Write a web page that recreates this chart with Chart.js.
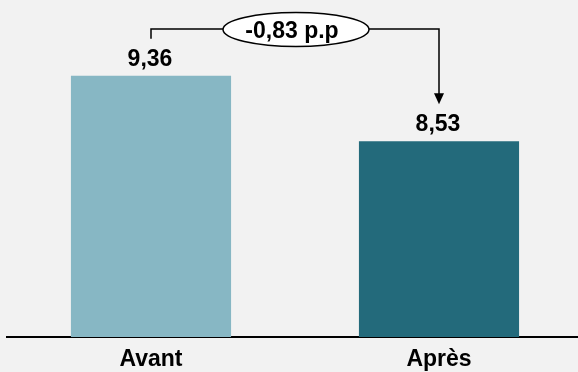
<!DOCTYPE html>
<html>
<head>
<meta charset="utf-8">
<script src="https://cdn.jsdelivr.net/npm/chart.js@4.4.1/dist/chart.umd.min.js"></script>
<style>
  body { margin: 0; background: #f2f2f2; overflow: hidden; }
  #wrap { width: 578px; height: 372px; overflow: hidden; }
</style>
</head>
<body>
<div id="wrap"><canvas id="gapChart" width="584" height="382"></canvas></div>
<script>
var categories = ['Avant', 'Après'];
var values = [9.36, 8.53];
var barColors = ['#87b7c4', '#236a7b'];

function fr(v) {
    return v.toFixed(2).replace('.', ',');
}

var FONT = 'bold 23px "Liberation Sans", Arial, sans-serif';

// value labels + bracket with the difference
var annotate = {
    id: 'annotate',
    afterDatasetsDraw: function(chart) {
        var ctx = chart.ctx;
        var meta = chart.getDatasetMeta(0);
        var b1 = meta.data[0], b2 = meta.data[1];

        ctx.save();
        ctx.fillStyle = '#000';
        ctx.font = FONT;
        ctx.textAlign = 'center';
        ctx.textBaseline = 'alphabetic';
        meta.data.forEach(function(bar, i) {
            ctx.fillText(fr(values[i]), bar.x - 1, bar.y - 10);
        });

        var lineY = 29;
        var ex = 296, ey = 29.5, rx = 73, ry = 17;
        var leftBottom = b1.y - 37;
        var tip = b2.y - 37;

        ctx.strokeStyle = '#000';
        ctx.lineWidth = 1.5;
        ctx.beginPath();
        ctx.moveTo(b1.x, leftBottom);
        ctx.lineTo(b1.x, lineY);
        ctx.lineTo(ex - rx, lineY);
        ctx.moveTo(ex + rx, lineY);
        ctx.lineTo(b2.x, lineY);
        ctx.lineTo(b2.x, tip - 10);
        ctx.stroke();

        ctx.fillStyle = '#000';
        ctx.beginPath();
        ctx.moveTo(b2.x - 5, tip - 11);
        ctx.lineTo(b2.x + 5, tip - 11);
        ctx.lineTo(b2.x, tip);
        ctx.closePath();
        ctx.fill();

        ctx.beginPath();
        ctx.ellipse(ex, ey, rx, ry, 0, 0, Math.PI * 2);
        ctx.fillStyle = '#fff';
        ctx.fill();
        ctx.stroke();

        ctx.fillStyle = '#000';
        ctx.fillText(fr(values[1] - values[0]) + ' p.p', ex - 4, 38);
        ctx.restore();
    }
};

var bg = {
    id: 'bg',
    beforeDraw: function(chart) {
        var ctx = chart.ctx;
        ctx.save();
        ctx.fillStyle = '#f2f2f2';
        ctx.fillRect(0, 0, chart.width, chart.height);
        ctx.restore();
    }
};

var ctxb = document.getElementById('gapChart').getContext('2d');
var gapChart = new Chart(ctxb, {
    type: 'bar',
    data: {
        labels: categories,
        datasets: [{
            data: values,
            backgroundColor: barColors,
            borderWidth: 0,
            categoryPercentage: 1,
            barPercentage: 0.556
        }]
    },
    options: {
        responsive: false,
        animation: false,
        layout: {
            padding: { top: 20, left: 7, right: 1, bottom: 0 }
        },
        plugins: {
            legend: { display: false },
            tooltip: { enabled: false }
        },
        scales: {
            x: {
                grid: { display: false, drawTicks: false },
                border: { display: true, color: '#000', width: 2 },
                ticks: {
                    color: '#000',
                    padding: 11,
                    font: { family: '"Liberation Sans", Arial, sans-serif', size: 23, weight: 'bold', lineHeight: 1 }
                }
            },
            y: {
                display: false,
                min: 6.05,
                max: 10.065
            }
        }
    },
    plugins: [bg, annotate]
});
</script>
</body>
</html>
